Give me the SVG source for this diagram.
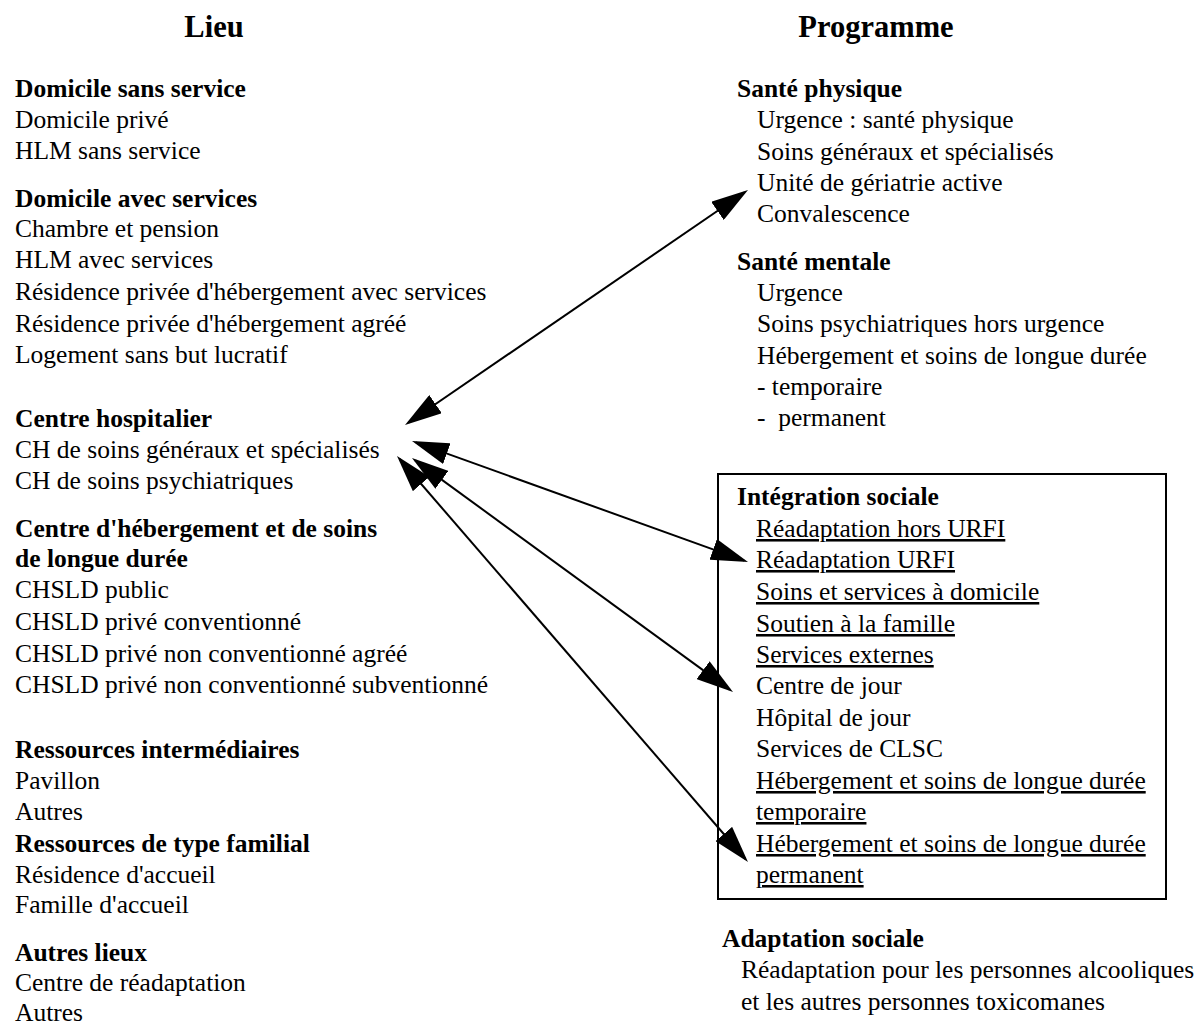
<svg xmlns="http://www.w3.org/2000/svg" width="1197" height="1027" viewBox="0 0 1197 1027">
  <style>
    text { font-family: "Liberation Serif", "Times New Roman", serif; font-size: 25.5px; fill: #000; }
    .title { font-size: 30.5px; font-weight: bold; text-anchor: middle; }
    .head { font-weight: bold; }
    .ul { text-decoration: underline; }
    .link { fill: none; stroke: #000; stroke-width: 2; marker-start: url(#tip); marker-end: url(#tip); }
    .frame { fill: none; stroke: #000; stroke-width: 2; }
  </style>
  <defs>
    <marker id="tip" viewBox="0 0 37 22" markerWidth="37" markerHeight="22" markerUnits="userSpaceOnUse" refX="33" refY="11" orient="auto-start-reverse">
      <path d="M0,0 L37,11 L0,22 Z" fill="#000"/>
    </marker>
  </defs>
  <rect width="1197" height="1027" fill="#fff"/>

  <!-- column titles -->
  <g id="title-lieu"><text class="title" x="214" y="37">Lieu</text></g>
  <g id="title-programme"><text class="title" x="876" y="37">Programme</text></g>

  <!-- places (left column) -->
  <g id="domicile-sans-service">
    <text class="head" x="15" y="97">Domicile sans service</text>
    <text x="15" y="128">Domicile privé</text>
    <text x="15" y="159">HLM sans service</text>
  </g>
  <g id="domicile-avec-services">
    <text class="head" x="15" y="207">Domicile avec services</text>
    <text x="15" y="237">Chambre et pension</text>
    <text x="15" y="268">HLM avec services</text>
    <text x="15" y="300">Résidence privée d'hébergement avec services</text>
    <text x="15" y="332">Résidence privée d'hébergement agréé</text>
    <text x="15" y="363">Logement sans but lucratif</text>
  </g>
  <g id="centre-hospitalier">
    <text class="head" x="15" y="427">Centre hospitalier</text>
    <text x="15" y="458">CH de soins généraux et spécialisés</text>
    <text x="15" y="489">CH de soins psychiatriques</text>
  </g>
  <g id="chsld">
    <text class="head" x="15" y="537">Centre d'hébergement et de soins</text>
    <text class="head" x="15" y="567">de longue durée</text>
    <text x="15" y="598">CHSLD public</text>
    <text x="15" y="630">CHSLD privé conventionné</text>
    <text x="15" y="662">CHSLD privé non conventionné agréé</text>
    <text x="15" y="693">CHSLD privé non conventionné subventionné</text>
  </g>
  <g id="ressources-intermediaires">
    <text class="head" x="15" y="758">Ressources intermédiaires</text>
    <text x="15" y="789">Pavillon</text>
    <text x="15" y="820">Autres</text>
  </g>
  <g id="ressources-type-familial">
    <text class="head" x="15" y="852">Ressources de type familial</text>
    <text x="15" y="883">Résidence d'accueil</text>
    <text x="15" y="913">Famille d'accueil</text>
  </g>
  <g id="autres-lieux">
    <text class="head" x="15" y="961">Autres lieux</text>
    <text x="15" y="991">Centre de réadaptation</text>
    <text x="15" y="1021">Autres</text>
  </g>

  <!-- programmes (right column) -->
  <g id="sante-physique">
    <text class="head" x="737" y="97">Santé physique</text>
    <text x="757" y="128">Urgence : santé physique</text>
    <text x="757" y="160">Soins généraux et spécialisés</text>
    <text x="757" y="191">Unité de gériatrie active</text>
    <text x="757" y="222">Convalescence</text>
  </g>
  <g id="sante-mentale">
    <text class="head" x="737" y="270">Santé mentale</text>
    <text x="757" y="301">Urgence</text>
    <text x="757" y="332">Soins psychiatriques hors urgence</text>
    <text x="757" y="364">Hébergement et soins de longue durée</text>
    <text x="757" y="395">- temporaire</text>
    <text x="757" y="426" xml:space="preserve">-  permanent</text>
  </g>
  <g id="integration-sociale">
    <rect class="frame" x="718" y="474" width="448" height="425"/>
    <text class="head" x="737" y="505">Intégration sociale</text>
    <text class="ul" x="756" y="537">Réadaptation hors URFI</text>
    <text class="ul" x="756" y="568">Réadaptation URFI</text>
    <text class="ul" x="756" y="600">Soins et services à domicile</text>
    <text class="ul" x="756" y="632">Soutien à la famille</text>
    <text class="ul" x="756" y="663">Services externes</text>
    <text x="756" y="694">Centre de jour</text>
    <text x="756" y="726">Hôpital de jour</text>
    <text x="756" y="757">Services de CLSC</text>
    <text class="ul" x="756" y="789">Hébergement et soins de longue durée</text>
    <text class="ul" x="756" y="820">temporaire</text>
    <text class="ul" x="756" y="852">Hébergement et soins de longue durée</text>
    <text class="ul" x="756" y="883">permanent</text>
  </g>
  <g id="adaptation-sociale">
    <text class="head" x="722" y="947">Adaptation sociale</text>
    <text x="741" y="978">Réadaptation pour les personnes alcooliques</text>
    <text x="741" y="1010">et les autres personnes toxicomanes</text>
  </g>

  <!-- two-way links between the hospital centre and the programmes -->
  <g id="connectors">
    <line class="link" x1="408.3" y1="422.74" x2="744.7" y2="192.26"/>
    <line class="link" x1="415.76" y1="442.36" x2="744.24" y2="560.64"/>
    <line class="link" x1="415.23" y1="460.36" x2="729.77" y2="689.64"/>
    <line class="link" x1="399.62" y1="459.02" x2="745.38" y2="858.98"/>
  </g>
</svg>
